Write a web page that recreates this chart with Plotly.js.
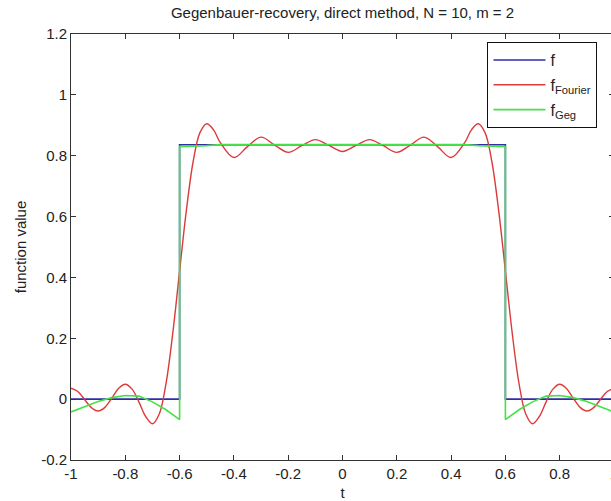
<!DOCTYPE html>
<html>
<head>
<meta charset="utf-8">
<script src="https://cdn.plot.ly/plotly-3.0.1.min.js"></script>
<style>
html,body{margin:0;padding:0;overflow:hidden;background:#fff;}
#chart{width:620px;height:501px;}
</style>
</head>
<body>
<div id="chart"></div>
<script>
// exact step function f
var fT = [-1, -0.6, -0.6, 0.6, 0.6, 1];
var fV = [0, 0, 0.836, 0.836, 0, 0];

// Fourier partial sum
var fourierT = [-1, -0.975, -0.95, -0.925, -0.9, -0.875, -0.85, -0.825, -0.8, -0.775, -0.75, -0.725, -0.7, -0.675, -0.65, -0.625, -0.6, -0.575, -0.55, -0.525, -0.5, -0.475, -0.45, -0.4, -0.35, -0.3, -0.25, -0.2, -0.15, -0.1, -0.05, 0,
                0.05, 0.1, 0.15, 0.2, 0.25, 0.3, 0.35, 0.4, 0.45, 0.475, 0.5, 0.525, 0.55, 0.575, 0.6, 0.625, 0.65, 0.675, 0.7, 0.725, 0.75, 0.775, 0.8, 0.825, 0.85, 0.875, 0.9, 0.925, 0.95, 0.975, 1];
var fourierV = [0.036, 0.025, -0.001, -0.028, -0.039, -0.027, 0.003, 0.035, 0.049, 0.033, -0.009, -0.057, -0.081, -0.049, 0.052, 0.218, 0.421, 0.621, 0.781, 0.876, 0.905, 0.885, 0.843, 0.794, 0.830, 0.861, 0.835, 0.811, 0.833, 0.853, 0.834, 0.814,
                0.834, 0.853, 0.833, 0.811, 0.835, 0.861, 0.830, 0.794, 0.843, 0.885, 0.905, 0.876, 0.781, 0.621, 0.421, 0.218, 0.052, -0.049, -0.081, -0.057, -0.009, 0.033, 0.049, 0.035, 0.003, -0.027, -0.039, -0.028, -0.001, 0.025, 0.036];

// Gegenbauer reconstruction
var gegT = [-1, -0.95, -0.9, -0.85, -0.8, -0.75, -0.7, -0.65, -0.625, -0.6, -0.6, -0.55, -0.5, -0.45, 0, 0.45, 0.5, 0.55, 0.6, 0.6, 0.625, 0.65, 0.7, 0.75, 0.8, 0.85, 0.9, 0.95, 1];
var gegV = [-0.042, -0.024, -0.008, 0.005, 0.012, 0.010, -0.009, -0.035, -0.050, -0.067, 0.830, 0.831, 0.833, 0.837, 0.837, 0.837, 0.833, 0.831, 0.830, -0.067, -0.050, -0.035, -0.009, 0.010, 0.012, 0.005, -0.008, -0.024, -0.042];

var xTickVals = [-1, -0.8, -0.6, -0.4, -0.2, 0, 0.2, 0.4, 0.6, 0.8, 1];
var xTickText = ['-1', '-0.8', '-0.6', '-0.4', '-0.2', '0', '0.2', '0.4', '0.6', '0.8', '1'];
var yTickVals = [-0.2, 0, 0.2, 0.4, 0.6, 0.8, 1, 1.2];
var yTickText = ['-0.2', '0', '0.2', '0.4', '0.6', '0.8', '1', '1.2'];

var FONT = 'Liberation Sans, Arial, sans-serif';

var traces = [
  {x: fT, y: fV, mode: 'lines', name: 'f', legendgroup: 'a', line: {color: '#2e2ea6', width: 1.6}},
  {x: fourierT, y: fourierV, mode: 'lines', name: 'f<sub>Fourier</sub>', legendgroup: 'b', line: {color: '#dd3a3a', width: 1.4, shape: 'spline', smoothing: 1}},
  {x: gegT, y: gegV, mode: 'lines', name: 'f<sub>Geg</sub>', legendgroup: 'c', line: {color: '#48e048', width: 1.6}}
];

var axisCommon = {
  showgrid: false, zeroline: false, showline: true, linecolor: '#333', linewidth: 1,
  mirror: 'ticks', ticks: 'inside', ticklen: 5, tickcolor: '#333', tickwidth: 1,
  tickfont: {family: FONT, size: 15, color: '#222'}
};

var layout = {
  width: 620, height: 501,
  margin: {l: 71, r: 6, t: 34, b: 41},
  paper_bgcolor: '#fff', plot_bgcolor: '#fff',
  font: {family: FONT, size: 15, color: '#222'},
  title: {text: 'Gegenbauer-recovery, direct method, N = 10, m = 2', font: {family: FONT, size: 15, color: '#222'},
          x: 0.5, xref: 'paper', xanchor: 'center', y: 1 - 13/501, yref: 'container', yanchor: 'middle'},
  xaxis: Object.assign({}, axisCommon, {range: [-1, 1], tickmode: 'array', tickvals: xTickVals, ticktext: xTickText,
          title: {text: 't', font: {family: FONT, size: 15, color: '#222'}, standoff: 6}}),
  yaxis: Object.assign({}, axisCommon, {range: [-0.2, 1.2], tickmode: 'array', tickvals: yTickVals, ticktext: yTickText,
          title: {text: 'function value', font: {family: FONT, size: 15, color: '#222'}, standoff: 10}}),
  showlegend: true,
  legend: {x: 0.767, xanchor: 'left', y: 0.981, yanchor: 'top', bgcolor: '#fff', bordercolor: '#111', borderwidth: 1,
           traceorder: 'grouped', tracegroupgap: 1, itemwidth: 52,
           font: {family: FONT, size: 16, color: '#222'}}
};

Plotly.newPlot('chart', traces, layout, {displayModeBar: false, staticPlot: true});
</script>
</body>
</html>
